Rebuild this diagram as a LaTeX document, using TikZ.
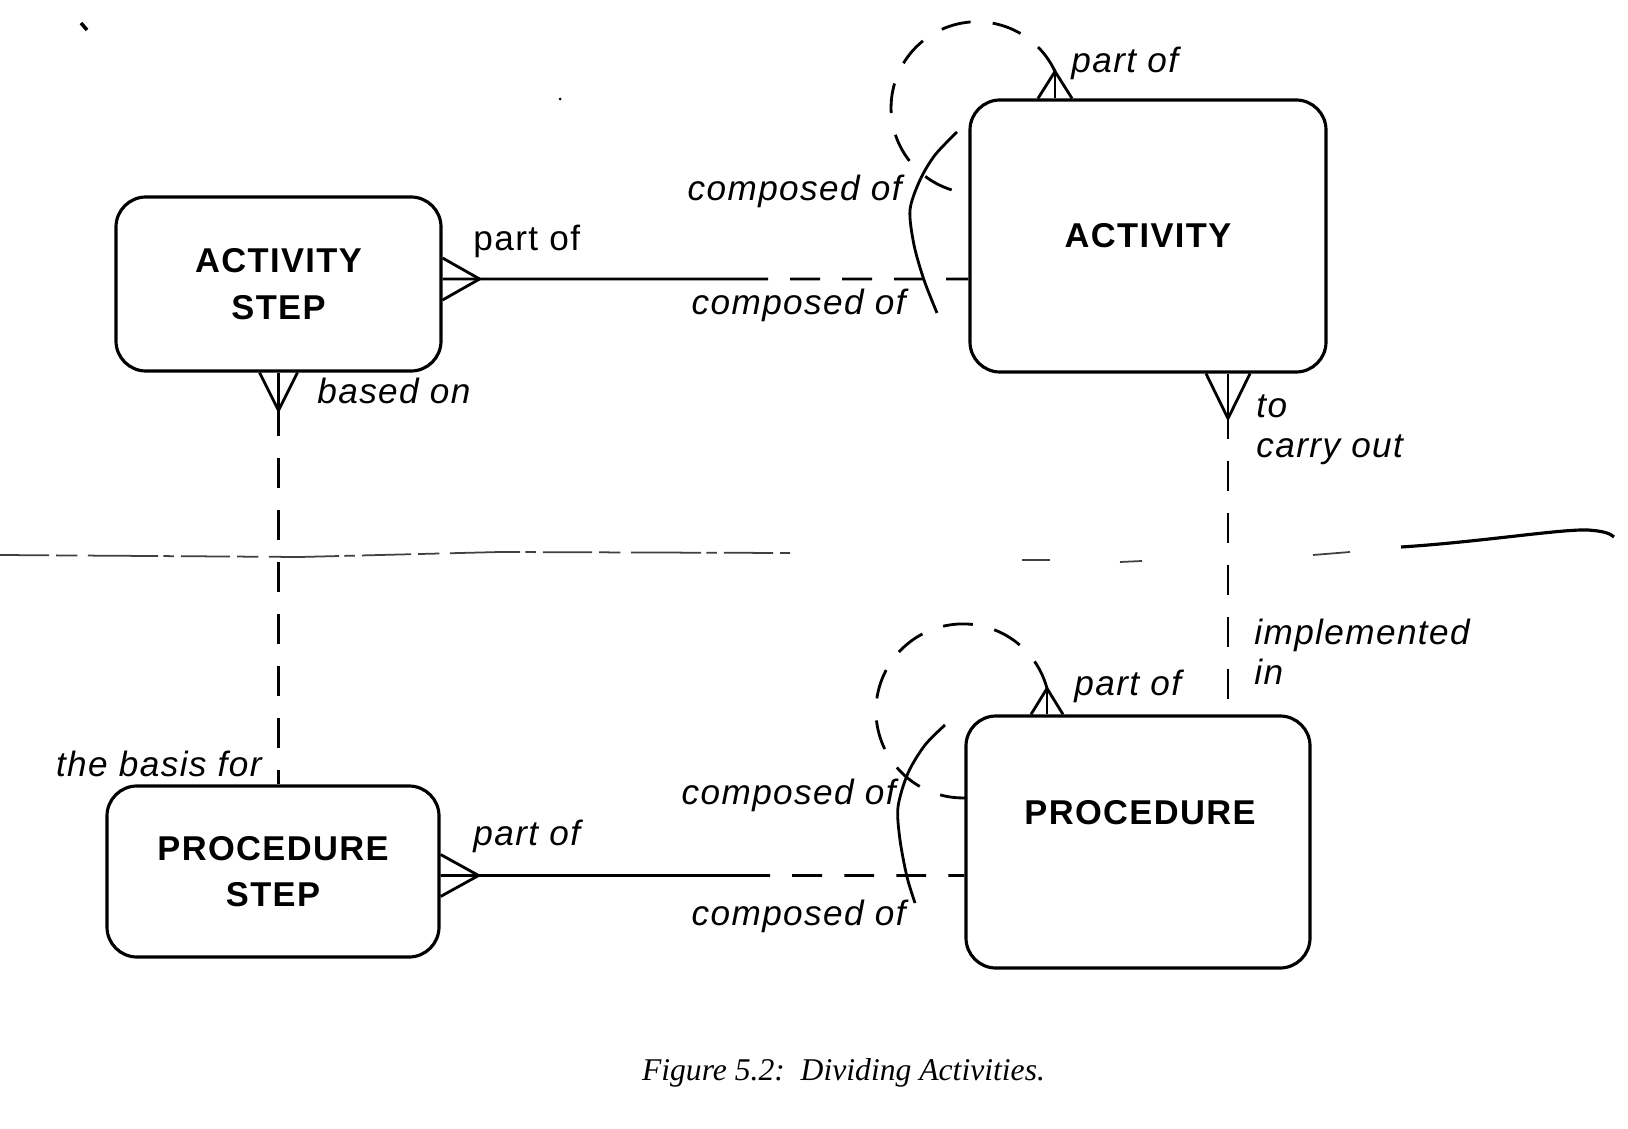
\documentclass[tikz,border=0pt]{standalone}
\usepackage{fontspec}
\newfontfamily\erfont[LetterSpace=4]{Liberation Sans}
\newfontfamily\capfont{Liberation Serif}
\usetikzlibrary{positioning,calc}

\begin{document}
\begin{tikzpicture}[thick,
    entity/.style = {draw, rounded corners=3mm, line width=0.9pt, align=center,
      font=\erfont\bfseries\fontsize{9.8}{13.2}\selectfont},
    title/.style = {align=center, font=\erfont\bfseries\fontsize{9.8}{13.2}\selectfont},
    lbl/.style = {inner sep=0pt, align=left, font=\erfont\itshape\fontsize{10}{11.4}\selectfont},
    opt/.style = {dash pattern=on 8.5pt off 6.3pt},
    scan/.style = {black!75, line width=0.5pt, dash pattern=on 14pt off 2pt on 6pt off 3pt on 20pt off 1.5pt on 3pt off 2pt}]
    \useasboundingbox (0,0) rectangle (16.28,11.28);

    % Entity boxes
    \node[entity, minimum width=3.25cm, minimum height=1.74cm] (astep) at (2.785,8.44) {ACTIVITY\\STEP};
    \node[entity, minimum width=3.56cm, minimum height=2.72cm] (act) at (11.48,8.92) {ACTIVITY};
    \node[entity, minimum width=3.32cm, minimum height=1.71cm] (pstep) at (2.73,2.565) {PROCEDURE\\STEP};
    \node[entity, minimum width=3.44cm, minimum height=2.52cm] (proc) at (11.38,2.86) {};
    \node[title] (proctitle) at (11.40,3.15) {PROCEDURE};

    % Activity step -- activity
    \coordinate (r1b) at ($(astep.east)+(0,0.05)$);
    \coordinate (r1) at ($(r1b)+(0.37,0)$);
    \draw ($(r1b)+(0,0.21)$) -- (r1) -- ($(r1b)+(0,-0.21)$);
    \draw (r1b) -- (r1) -- ($(r1)!0.59!(act.west |- r1)$) coordinate (r1m);
    \draw[opt, dash phase=8.5pt] (r1m) -- (act.west |- r1);

    % Activity -- procedure
    \coordinate (r2) at ($(act.south)+(0.8,-0.45)$);
    \draw ($(act.south)+(0.58,0)$) -- (r2) -- ($(act.south)+(1.02,0)$);
    \draw ($(act.south)+(0.8,0)$) -- (r2) -- ++(0,-0.2) coordinate (r2m);
    \draw[opt, dash phase=8.5pt] (r2m) -- (r2m |- proc.north);

    % Activity step -- procedure step
    \coordinate (r3) at ($(astep.south)+(0,-0.38)$);
    \draw ($(astep.south)+(-0.19,0)$) -- (r3) -- ($(astep.south)+(0.19,0)$);
    \draw (astep.south) -- (r3) -- ++(0,-0.25) coordinate (r3m);
    \draw[opt, dash phase=8.5pt] (r3m) -- (r3m |- pstep.north);

    % Procedure step -- procedure
    \coordinate (r4b) at ($(pstep.east)+(0,-0.04)$);
    \coordinate (r4) at ($(r4b)+(0.38,0)$);
    \draw ($(r4b)+(0,0.21)$) -- (r4) -- ($(r4b)+(0,-0.21)$);
    \draw (r4b) -- (r4) -- ($(r4)!0.6!(proc.west |- r4)$) coordinate (r4m);
    \draw[opt, dash phase=8.5pt] (r4m) -- (proc.west |- r4);

    % Activity made of activities
    \coordinate (l1) at ($(act.north)+(-0.93,0.27)$);
    \draw ($(act.north)+(-1.10,0)$) -- (l1) -- ($(act.north)+(-0.76,0)$);
    \draw ($(act.north)+(-0.93,0)$) -- (l1);
    \draw[opt] (l1) arc[start angle=25, end angle=265, radius=0.86];
    \draw plot[smooth] coordinates {(9.57,9.96) (9.35,9.73) (9.20,9.48) (9.10,9.18) (9.14,8.83) (9.24,8.48) (9.37,8.15)};

    % Procedure made of procedures
    \coordinate (l2) at ($(proc.north)+(-0.91,0.26)$);
    \draw ($(proc.north)+(-1.07,0)$) -- (l2) -- ($(proc.north)+(-0.75,0)$);
    \draw ($(proc.north)+(-0.91,0)$) -- (l2);
    \draw[opt] (l2) arc[start angle=15, end angle=272, radius=0.87];
    \draw plot[smooth] coordinates {(9.45,4.03) (9.25,3.83) (9.08,3.55) (8.98,3.21) (9.00,2.88) (9.07,2.51) (9.15,2.25)};

    % Relationship names
    \node[lbl, font=\erfont\fontsize{10}{11.4}\selectfont, anchor=west] (astep-part) at (4.72,8.87) {part of};
    \node[lbl, anchor=east] (act-comp1) at (9.03,9.37) {composed of};
    \node[lbl, anchor=east] (act-comp2) at (9.07,8.23) {composed of};
    \node[lbl, anchor=west] (act-part) at (10.70,10.65) {part of};
    \node[lbl, anchor=west] (act-carry) at (12.55,6.98) {to\\carry out};
    \node[lbl, anchor=west] (proc-impl) at (12.53,4.76) {implemented\\in};
    \node[lbl, anchor=west] (astep-based) at (3.16,7.37) {based on};
    \node[lbl, anchor=east] (pstep-basis) at (2.63,3.64) {the basis for};
    \node[lbl, anchor=west] (pstep-part) at (4.72,2.92) {part of};
    \node[lbl, anchor=east] (proc-comp1) at (8.97,3.33) {composed of};
    \node[lbl, anchor=east] (proc-comp2) at (9.07,2.12) {composed of};
    \node[lbl, anchor=west] (proc-part) at (10.73,4.42) {part of};

    % Caption
    \node[anchor=base, font=\capfont\itshape\fontsize{9}{11}\selectfont] (caption) at (8.435,0.48) {Figure 5.2:\ \ Dividing Activities.};

    % Marks of the scanned page
    \draw[scan] (0,5.73) -- (3.0,5.71) -- (5.0,5.76) -- (7.9,5.75);
    \draw[scan] (10.22,5.68) -- (10.5,5.68);
    \draw[scan] (11.2,5.66) -- (11.42,5.67);
    \draw[scan] (13.13,5.73) -- (13.5,5.76);
    \draw[line width=0.9pt] (14.01,5.81) .. controls (14.8,5.86) and (15.6,5.99) .. (15.88,5.98) .. controls (16.02,5.97) and (16.1,5.95) .. (16.14,5.91);
    \draw[line width=1pt] (0.81,11.05) -- (0.87,10.98);
    \fill (5.60,10.29) circle (0.015);
\end{tikzpicture}
\end{document}
